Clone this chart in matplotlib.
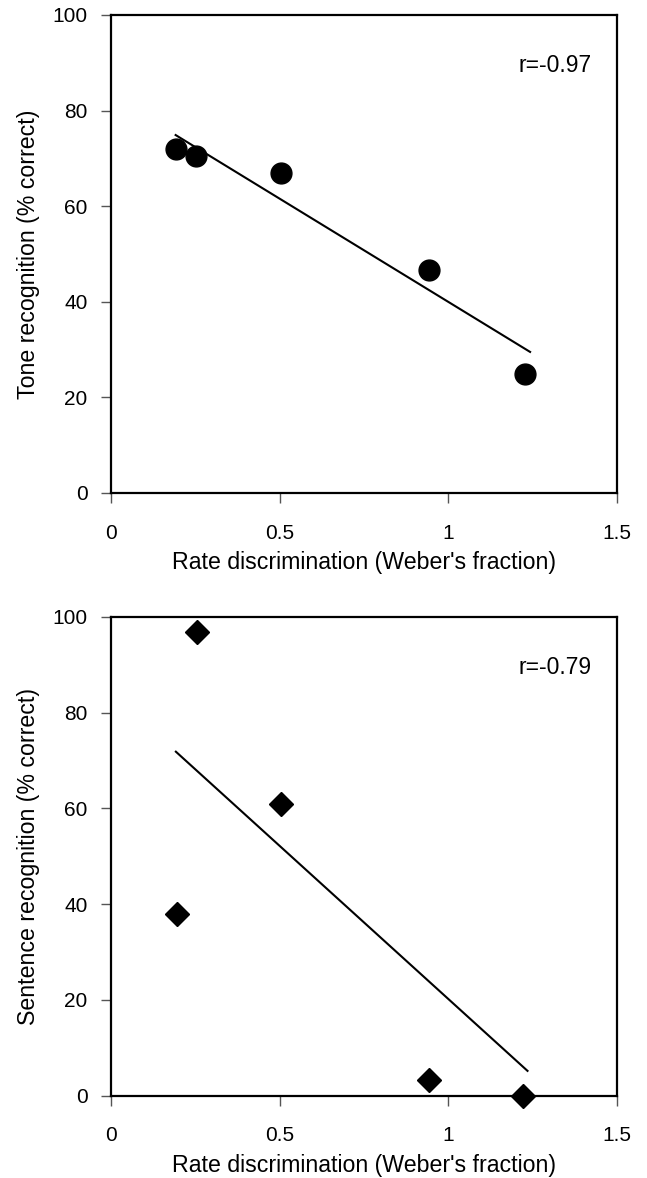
import matplotlib
matplotlib.use("Agg")
import matplotlib.pyplot as plt

plt.rcParams['font.family'] = ['Liberation Sans', 'DejaVu Sans']

# Rate discrimination (Weber's fraction) per subject
weber_tone = [0.193, 0.253, 0.503, 0.943, 1.226]
tone_pct = [72.0, 70.6, 66.9, 46.7, 25.0]

weber_sent = [0.197, 0.256, 0.505, 0.942, 1.222]
sent_pct = [37.9, 96.9, 60.9, 3.3, 0.0]

# Fitted trend lines (end points)
fit_x_tone = [0.189, 1.245]
fit_y_tone = [75.0, 29.4]
fit_x_sent = [0.190, 1.237]
fit_y_sent = [72.0, 5.0]

r_labels = ["r=-0.97", "r=-0.79"]
x_ticks = [0, 0.5, 1, 1.5]
x_ticklabels = ["0", "0.5", "1", "1.5"]
y_ticks = [0, 20, 40, 60, 80, 100]
y_labels = ["Tone recognition (% correct)", "Sentence recognition (% correct)"]
x_label = "Rate discrimination (Weber's fraction)"

W, H = 647, 1178
fig = plt.figure(figsize=(W / 100, H / 100), dpi=100)
fig.patch.set_facecolor('white')


def make_axes(top_px, bottom_px):
    left_px, right_px = 111, 617
    return fig.add_axes([left_px / W, (H - bottom_px) / H,
                         (right_px - left_px) / W, (bottom_px - top_px) / H])


ax1 = make_axes(15, 493)
ax2 = make_axes(617, 1095.5)

panels = [
    (ax1, weber_tone, tone_pct, fit_x_tone, fit_y_tone, 'o', 15, r_labels[0], y_labels[0]),
    (ax2, weber_sent, sent_pct, fit_x_sent, fit_y_sent, 'D', 12.5, r_labels[1], y_labels[1]),
]

for ax, xs, ys, fx, fy, marker, ms, rlab, ylab in panels:
    ax.plot(fx, fy, color='black', lw=1.5, solid_capstyle='butt', zorder=2)
    ax.plot(xs, ys, linestyle='none', marker=marker, markersize=ms,
            markerfacecolor='black', markeredgecolor='black', mew=1,
            clip_on=False, zorder=3)
    ax.set_xlim(0, 1.5)
    ax.set_ylim(0, 100)
    ax.set_xticks(x_ticks)
    ax.set_xticklabels(x_ticklabels)
    ax.set_yticks(y_ticks)
    ax.tick_params(axis='both', direction='out', length=7, width=1,
                   color='#555555', labelsize=15, labelcolor='black')
    ax.tick_params(axis='x', pad=15)
    ax.tick_params(axis='y', pad=10)
    for s in ax.spines.values():
        s.set_linewidth(1.6)
        s.set_color('black')
    ax.set_xlabel(x_label, fontsize=16.7)
    ax.xaxis.set_label_coords(0.5, -0.146)
    ax.xaxis.label.set_va('center')
    ax.set_ylabel(ylab, fontsize=16.7)
    ax.yaxis.set_label_coords(-0.164, 0.5)
    ax.yaxis.label.set_va('center')
    ax.text(0.877, 0.895, rlab, transform=ax.transAxes, fontsize=16.5,
            ha='center', va='center')

fig.savefig("out.png", dpi=100, facecolor='white')
